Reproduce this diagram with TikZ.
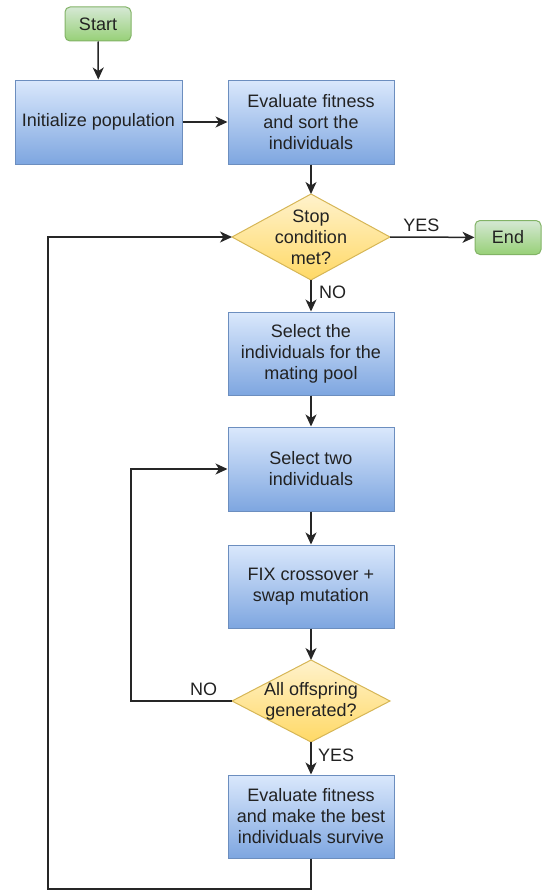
\documentclass[tikz,border=0pt]{standalone}
\usepackage{fontspec}
\setmainfont{Liberation Sans}
\usetikzlibrary{shapes.geometric,arrows.meta}
\definecolor{bluetop}{HTML}{DAE8FC}
\definecolor{bluebot}{HTML}{7EA6E0}
\definecolor{blueline}{HTML}{6C8EBF}
\definecolor{greentop}{HTML}{D5E8D4}
\definecolor{greenbot}{HTML}{97D077}
\definecolor{greenline}{HTML}{82B366}
\definecolor{yeltop}{HTML}{FFF2CC}
\definecolor{yelbot}{HTML}{FFD966}
\definecolor{yelline}{HTML}{D6B656}
\definecolor{txt}{HTML}{222222}
\tikzset{
  lbl/.style={font=\fontsize{18}{21}\selectfont, text=txt},
  procbox/.style={lbl, draw=blueline, line width=1pt, top color=bluetop, bottom color=bluebot,
    minimum width=166pt, minimum height=84pt, align=center, inner sep=2pt},
  termbox/.style={lbl, draw=greenline, line width=1pt, top color=greentop, bottom color=greenbot,
    rounded corners=5pt, minimum width=66pt, minimum height=34pt, inner sep=2pt},
  decbox/.style={draw=yelline, line width=1pt, top color=yeltop, bottom color=yelbot,
    shape=diamond, minimum width=158pt, minimum height=86pt, inner sep=0pt, outer sep=0pt},
  dectext/.style={lbl, align=center, inner sep=0pt},
  conn/.style={draw=black!85, line width=1.5pt, -{Stealth[length=12pt,width=11pt,inset=3.5pt]}},
}
\begin{document}
\begin{tikzpicture}[x=1pt,y=1pt]
\useasboundingbox (0,0) rectangle (542,-891);
\node[termbox] (start) at (98,-24) {Start};
\node[procbox, minimum width=167pt] (init) at (98.5,-122) {Initialize population};
\node[procbox] (eval) at (311,-122) {Evaluate fitness\\and sort the\\individuals};
\node[decbox] (stop) at (311,-237) {};
\node[dectext] (stoptxt) at (stop.center) {Stop\\condition\\met?};
\node[termbox] (end) at (508,-237.5) {End};
\node[procbox, minimum height=83pt] (pool) at (311,-353.5) {Select the\\individuals for the\\mating pool};
\node[procbox] (two) at (311,-469) {Select two\\individuals};
\node[procbox, minimum height=83pt] (fix) at (311,-586.5) {FIX crossover +\\swap mutation};
\node[decbox, minimum height=82pt] (all) at (311,-701) {};
\node[dectext] (alltxt) at (all.center) {All offspring\\generated?};
\node[procbox, minimum height=83pt] (surv) at (311,-816.5) {Evaluate fitness\\and make the best\\individuals survive};

\coordinate (ob) at (311,-889);
\coordinate (obl) at (48,-889);
\coordinate (otl) at (48,-237);
\coordinate (il) at (131,-701);

\path[conn] (start) -- (init);
\path[conn] (init) -- (eval);
\path[conn] (eval) -- (stop);
\path[conn] (stop.east) -- node[lbl, above, pos=0.37, yshift=1pt] (yes1) {YES} (end);
\path[conn] (stop.south) -- node[lbl, right, pos=0.4, xshift=4pt] (no1) {NO} (pool);
\path[conn] (pool) -- (two);
\path[conn] (two) -- (fix);
\path[conn] (fix) -- (all.north);
\path[conn] (all.south) -- node[lbl, right, pos=0.4, xshift=3pt] (yes2) {YES} (surv);
\path[conn] (all.west) -- node[lbl, above, pos=0.28, yshift=1pt] (no2) {NO} (il) |- (two.west);
\path[conn] (surv.south) -- (ob) -- (obl) -- (otl) -- (stop.west);
\end{tikzpicture}
\end{document}
